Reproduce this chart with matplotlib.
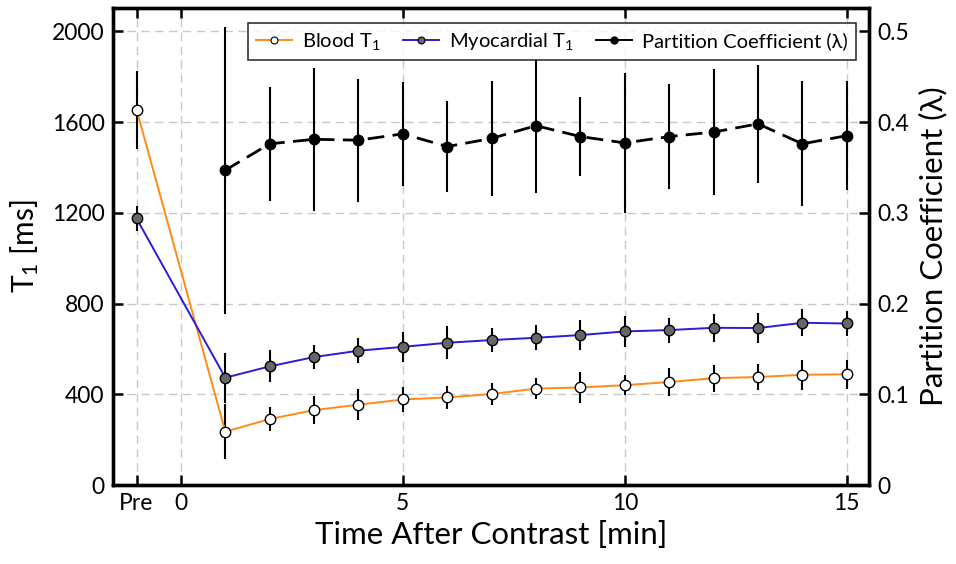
import matplotlib
matplotlib.use("Agg")
import matplotlib.pyplot as plt
from matplotlib.lines import Line2D

plt.rcParams['font.family'] = ['Lato', 'DejaVu Sans']
plt.rcParams['mathtext.fontset'] = 'custom'
plt.rcParams['mathtext.rm'] = 'Lato'
plt.rcParams['mathtext.it'] = 'Lato'

# Time points: -1 stands for the pre-contrast scan
time = [-1, 1, 2, 3, 4, 5, 6, 7, 8, 9, 10, 11, 12, 13, 14, 15]
time_lambda = [1, 2, 3, 4, 5, 6, 7, 8, 9, 10, 11, 12, 13, 14, 15]

blood_t1 = [1655, 235, 291, 330, 354, 377, 386, 401, 425, 430, 440, 454, 471, 476, 486, 488]
blood_err = [172, 120, 52, 62, 69, 57, 52, 47, 47, 70, 43, 62, 60, 59, 66, 64]

myo_t1 = [1175, 473, 523, 564, 592, 609, 627, 639, 649, 661, 677, 683, 693, 692, 715, 712]
myo_err = [55, 110, 70, 52, 56, 66, 72, 52, 56, 66, 68, 55, 62, 67, 60, 53]

lam = [0.347, 0.376, 0.381, 0.380, 0.387, 0.373, 0.382, 0.396, 0.384, 0.377,
       0.384, 0.389, 0.398, 0.376, 0.385]
lam_err = [0.158, 0.063, 0.079, 0.068, 0.057, 0.050, 0.063, 0.074, 0.044, 0.077,
           0.058, 0.069, 0.065, 0.069, 0.060]

x_ticks = [-1, 0, 5, 10, 15]
x_tick_labels = ['Pre', '0', '5', '10', '15']
y_ticks = [0, 400, 800, 1200, 1600, 2000]
y2_ticks = [0, 0.1, 0.2, 0.3, 0.4, 0.5]
y2_tick_labels = ['0', '0.1', '0.2', '0.3', '0.4', '0.5']

orange = '#FF8A14'
blue = '#2A1CD8'

fig = plt.figure(figsize=(9.56, 5.64), dpi=100)
ax = fig.add_axes([113 / 956, 1 - 485 / 564, (869 - 113) / 956, (485 - 7.5) / 564])
ax2 = ax.twinx()

ax.set_xlim(-1.53, 15.5)
ax.set_ylim(0, 2105)
ax2.set_ylim(0, 2105 / 4000)

ax.grid(True, color='#c8c8c8', linestyle=(0, (6, 4)), linewidth=1.0)
ax.set_axisbelow(True)

l_blood = ax.errorbar(time, blood_t1, yerr=blood_err, color=orange, lw=1.4,
                      marker='o', ms=7.5, mfc='white', mec='black', mew=1.0,
                      ecolor='black', elinewidth=1.5, capsize=0, zorder=3)
l_myo = ax.errorbar(time, myo_t1, yerr=myo_err, color=blue, lw=1.4,
                    marker='o', ms=7.5, mfc='#666666', mec='black', mew=1.0,
                    ecolor='black', elinewidth=1.5, capsize=0, zorder=3)
l_lam = ax2.errorbar(time_lambda, lam, yerr=lam_err, color='black', lw=2.0,
                     linestyle=(0, (6, 3)), marker='o', ms=7.5, mfc='black',
                     mec='black', ecolor='black', elinewidth=1.5, capsize=0,
                     zorder=3)

ax.set_xticks(x_ticks)
ax.set_xticklabels(x_tick_labels)
ax.set_yticks(y_ticks)
ax2.set_yticks(y2_ticks)
ax2.set_yticklabels(y2_tick_labels)

for a in (ax, ax2):
    for s in a.spines.values():
        s.set_linewidth(2.4)
    a.tick_params(direction='in', length=7, width=1.8, labelsize=16.5, pad=6)
ax.tick_params(axis='x', top=True)
ax.tick_params(axis='y', right=False)
ax2.tick_params(axis='y', left=False, right=True)

ax.set_xlabel('Time After Contrast [min]', fontsize=22.5, labelpad=5)
ax.set_ylabel('T$_1$ [ms]', fontsize=21.5, labelpad=8)
ax2.set_ylabel('Partition Coefficient (λ)', fontsize=22.5, labelpad=7)

legend_handles = [
    Line2D([], [], color=orange, lw=1.4, marker='o', ms=5, mfc='white', mec='black', mew=0.8),
    Line2D([], [], color=blue, lw=1.4, marker='o', ms=5, mfc='#666666', mec='black', mew=0.8),
    Line2D([], [], color='black', lw=1.4, marker='o', ms=5, mfc='black', mec='black'),
]
leg = ax2.legend(legend_handles, ['Blood T$_1$', 'Myocardial T$_1$', 'Partition Coefficient (λ)'],
                 ncol=3, loc='upper left', bbox_to_anchor=((248 - 113) / 756, 1 - (23 - 7.5) / 477.5),
                 fontsize=14.5, frameon=True, fancybox=False, edgecolor='black',
                 handlelength=1.8, handletextpad=0.5, columnspacing=1.1,
                 borderpad=0.4, borderaxespad=0)
leg.get_frame().set_linewidth(1.2)
leg.set_zorder(10)

fig.savefig('out.png', dpi=100)
